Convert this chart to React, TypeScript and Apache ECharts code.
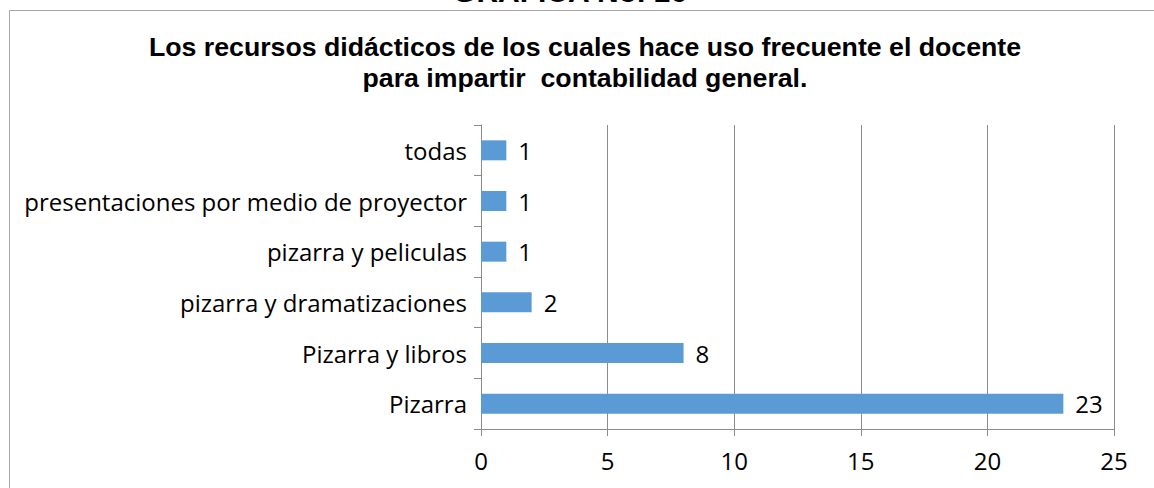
import React, { useEffect, useRef } from "react";
import * as echarts from "echarts";

const categories = [
  "Pizarra",
  "Pizarra y libros",
  "pizarra y dramatizaciones",
  "pizarra y peliculas",
  "presentaciones por medio de proyector",
  "todas",
];
const values = [23, 8, 2, 1, 1, 1];
const xTicks = { min: 0, max: 25, interval: 5 };
const headerText = "GRAFICA No. 16";
const titleLines = [
  "Los recursos didácticos de los cuales hace uso frecuente el docente",
  "para impartir  contabilidad general.",
];

export default function App() {
  const ref = useRef<HTMLDivElement>(null);
  useEffect(() => {
    if (!ref.current) return;
    const chart = echarts.init(ref.current, null, { renderer: "svg" });
    const labelFont = "'Open Sans', sans-serif";
    const titleFont = "bold 26.7px 'Liberation Sans', Arial, sans-serif";
    chart.setOption({
      animation: false,
      backgroundColor: "#ffffff",
      graphic: [
        {
          type: "rect",
          shape: { x: 9.5, y: 10.5, width: 1170, height: 520 },
          style: { fill: "none", stroke: "#a6a6a6", lineWidth: 1 },
          z: -1,
        },
        {
          type: "text",
          x: 570,
          y: 6,
          style: {
            text: headerText,
            fill: "#000",
            font: "bold 30px 'Liberation Sans', Arial, sans-serif",
            textAlign: "center",
            textVerticalAlign: "bottom",
          },
        },
        {
          type: "text",
          x: 585,
          y: 47,
          style: {
            text: titleLines[0],
            fill: "#000",
            font: titleFont,
            textAlign: "center",
            textVerticalAlign: "middle",
          },
        },
        {
          type: "text",
          x: 585,
          y: 78,
          style: {
            text: titleLines[1],
            fill: "#000",
            font: titleFont,
            textAlign: "center",
            textVerticalAlign: "middle",
          },
        },
      ],
      grid: { left: 481, right: 40, top: 125, bottom: 59, containLabel: false },
      xAxis: {
        type: "value",
        min: xTicks.min,
        max: xTicks.max,
        interval: xTicks.interval,
        axisLine: { show: true, lineStyle: { color: "#8c8c8c", width: 1 } },
        axisTick: { show: true, length: 7, lineStyle: { color: "#8c8c8c" } },
        axisLabel: {
          color: "#000",
          fontSize: 24,
          fontFamily: labelFont,
          margin: 19,
        },
        splitLine: { show: true, lineStyle: { color: "#8c8c8c", width: 1 } },
      },
      yAxis: {
        type: "category",
        data: categories,
        axisLine: { show: true, lineStyle: { color: "#8c8c8c", width: 1 } },
        axisTick: { show: true, length: 7, lineStyle: { color: "#8c8c8c" } },
        axisLabel: {
          color: "#000",
          fontSize: 24,
          fontFamily: labelFont,
          margin: 14,
        },
      },
      series: [
        {
          type: "bar",
          data: values,
          barWidth: 20,
          itemStyle: { color: "#5b9bd5" },
          label: {
            show: true,
            position: "right",
            distance: 12,
            color: "#000",
            fontSize: 24,
            fontFamily: labelFont,
          },
        },
      ],
    });
    return () => chart.dispose();
  }, []);
  return (
    <div
      ref={ref}
      style={{ position: "fixed", left: 0, top: 0, width: 1154, height: 488 }}
    />
  );
}
